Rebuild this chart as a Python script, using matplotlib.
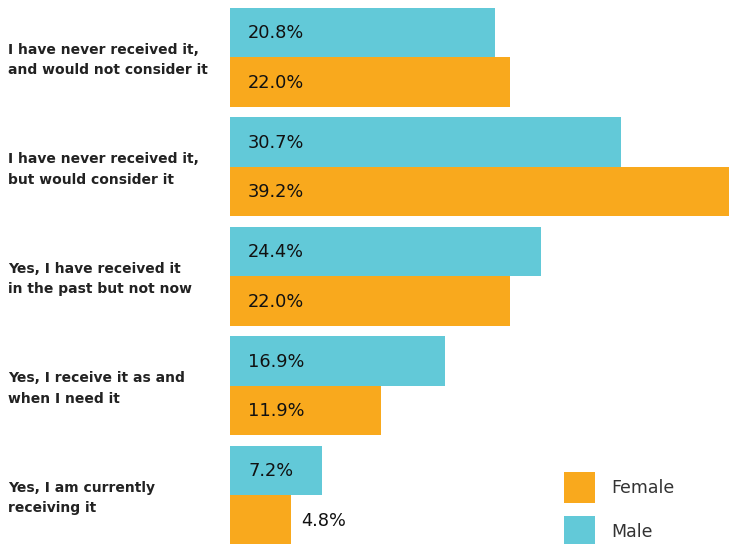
import matplotlib
matplotlib.use("Agg")
import matplotlib.pyplot as plt
from matplotlib.patches import Rectangle

categories = [
    "I have never received it,\nand would not consider it",
    "I have never received it,\nbut would consider it",
    "Yes, I have received it\nin the past but not now",
    "Yes, I receive it as and\nwhen I need it",
    "Yes, I am currently\nreceiving it",
]
male = [20.8, 30.7, 24.4, 16.9, 7.2]
female = [22.0, 39.2, 22.0, 11.9, 4.8]
series_names = ["Female", "Male"]

MALE_COLOR = "#62C9D8"
FEMALE_COLOR = "#F9A91D"
TEXT_COLOR = "#111111"

W, H = 729, 544
fig = plt.figure(figsize=(W / 100, H / 100), dpi=100)
ax = fig.add_axes([230 / W, 0, 1 - 230 / W, 1])

bar_h = 0.452
ys = list(range(len(categories)))
ax.barh([y - bar_h / 2 for y in ys], male, height=bar_h, color=MALE_COLOR, linewidth=0)
ax.barh([y + bar_h / 2 for y in ys], female, height=bar_h, color=FEMALE_COLOR, linewidth=0)

xmax = max(male + female)
ax.set_xlim(0, xmax)
ax.set_ylim(4.447, -0.5205)
ax.axis("off")

font = "DejaVu Sans"
px_per_unit = (W - 230) / xmax
inner_x = 18 / px_per_unit
for y, m, f in zip(ys, male, female):
    for val, yc in ((m, y - bar_h / 2), (f, y + bar_h / 2)):
        label = f"{val:.1f}%"
        if val * px_per_unit < 80:
            x = val + 10 / px_per_unit
        else:
            x = inner_x
        ax.text(x, yc + 0.01, label, ha="left", va="center", fontsize=12.8,
                color=TEXT_COLOR, family=font)

# category labels at the left margin
for y, cat in zip(ys, categories):
    fig.text(8 / W, 1 - (57 + 109.5 * y + 3) / H, cat, ha="left", va="center",
             fontsize=10, color="#222222", family=font, fontweight="bold",
             linespacing=1.6)

# legend
for i, (name, col) in enumerate(zip(series_names, [FEMALE_COLOR, MALE_COLOR])):
    top = 472 + 44 * i
    fig.patches.append(Rectangle((564 / W, 1 - (top + 31) / H), 31 / W, 31 / H,
                                 transform=fig.transFigure, color=col, lw=0))
    fig.text(611 / W, 1 - (top + 16) / H, name, ha="left", va="center",
             fontsize=12.5, color="#333333", family=font)

fig.savefig("out.png", dpi=100)
